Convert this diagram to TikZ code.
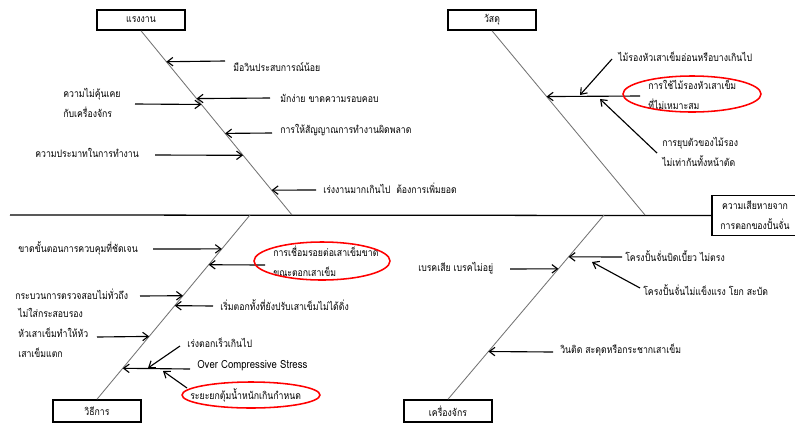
\documentclass[tikz,border=0pt]{standalone}
\usepackage{fontspec}
\usetikzlibrary{arrows.meta}
\newfontfamily\thai[Script=Thai, FakeStretch=0.85]{Loma}
\begin{document}
\begin{tikzpicture}[x=0.025cm, y=-0.025cm, font=\thai\fontsize{7.3}{14}\selectfont]
        \tikzstyle{head}=[draw, line width=1.1pt, minimum width=2.2cm, minimum height=0.5cm, inner sep=0pt]
        \tikzstyle{cause}=[anchor=west, align=left, inner sep=0pt]
        \tikzstyle{bone}=[draw=black!55, line width=0.6pt]
        \tikzstyle{arr}=[-{Straight Barb[length=4pt, width=6pt]}, line width=0.8pt]
        \tikzstyle{ring}=[draw=red, line width=1.1pt]

        \useasboundingbox (0,0) rectangle (795,423);

        \node[head] (man) at (141,20) {แรงงาน};
        \node[head] (mat) at (492,20) {วัสดุ};
        \node[head, minimum height=0.55cm] (meth) at (97,411) {วิธีการ};
        \node[head, minimum height=0.55cm] (mach) at (448,411) {เครื่องจักร};
        \node[draw, line width=0.8pt, minimum width=2.15cm, minimum height=1cm, align=center, inner sep=0pt] (eff) at (755,215.5) {ความเสียหายจาก\\การตอกของปั้นจั่น};

        \coordinate (tail) at (10,215);
        \coordinate (j1) at (292,215);
        \coordinate (j2) at (645,215);
        \coordinate (j3) at (250,215);
        \coordinate (j4) at (604,215);
        \draw[line width=0.9pt] (tail) -- (eff.west);

        \draw[bone] (man.south) -- (j1)
            coordinate[pos=.168] (p1) coordinate[pos=.368] (p2) coordinate[pos=.40] (p3)
            coordinate[pos=.557] (p4) coordinate[pos=.676] (p5) coordinate[pos=.865] (p6);
        \draw[bone] (mat.south) -- (j2) coordinate[pos=.357] (r1);
        \draw[bone] (meth.north) -- (j3)
            coordinate[pos=.816] (s1) coordinate[pos=.730] (s2) coordinate[pos=.562] (s3)
            coordinate[pos=.508] (s4) coordinate[pos=.341] (s5) coordinate[pos=.168] (s6);
        \draw[bone] (mach.north) -- (j4)
            coordinate[pos=.708] (q1) coordinate[pos=.773] (q2) coordinate[pos=.259] (q4);

        % man
        \node[cause] (n1) at (233,67) {มือวินประสบการณ์น้อย};
        \node[cause] (n2) at (280,98) {มักง่าย ขาดความรอบคอบ};
        \node[cause] (n3) at (63,103) {ความไม่คุ้นเคย\\กับเครื่องจักร};
        \node[cause] (n4) at (280,130) {การให้สัญญาณการทำงานผิดพลาด};
        \node[cause] (n5) at (35,153) {ความประมาทในการทำงาน};
        \node[cause] (n6) at (323,188) {เร่งงานมากเกินไป\ \ ต้องการเพิ่มยอด};
        \coordinate (a1) at (225,61);
        \coordinate (a2) at (270,98);
        \coordinate (a3) at (135,104);
        \coordinate (a4) at (272,133);
        \coordinate (a5) at (155,155);
        \coordinate (a6) at (316,190);
        \draw[arr] (a1) -- (p1);
        \draw[arr] (a2) -- (p2);
        \draw[arr] (a3) -- (p3);
        \draw[arr] (a4) -- (p4);
        \draw[arr] (a5) -- (p5);
        \draw[arr] (a6) -- (p6);

        % material
        \node[cause] (m1) at (618,57) {ไม้รองหัวเสาเข็มอ่อนหรือบางเกินไป};
        \node[cause] (m2) at (648,95) {การใช้ไม้รองหัวเสาเข็ม\\ที่ไม่เหมาะสม};
        \node[cause] (m3) at (662,152) {การยุบตัวของไม้รอง\\ไม่เท่ากันทั้งหน้าตัด};
        \coordinate (b1) at (640,96);
        \coordinate (b2) at (612,59);
        \coordinate (b2h) at (580,95);
        \coordinate (b3) at (657,153);
        \coordinate (b3h) at (600,99);
        \draw[arr] (b1) -- (r1);
        \draw[arr] (b2) -- (b2h);
        \draw[arr] (b3) -- (b3h);
        \draw[ring] (692,94) ellipse [x radius=69, y radius=18];

        % method
        \node[cause] (k1) at (18,248) {ขาดขั้นตอนการควบคุมที่ชัดเจน};
        \node[cause] (k2) at (273,261) {การเชื่อมรอยต่อเสาเข็มขาด\\ขณะตอกเสาเข็ม};
        \node[cause] (k3) at (15,294) {กระบวนการตรวจสอบไม่ทั่วถึง};
        \node[cause] (k4) at (220,305) {เริ่มตอกทั้งที่ยังปรับเสาเข็มไม่ได้ดิ่ง};
        \node[cause] (k5) at (18,333) {ไม่ใส่กระสอบรอง\\หัวเสาเข็มทำให้หัว\\เสาเข็มแตก};
        \node[cause, font=\thai\fontsize{8}{14}\selectfont] (k6) at (197,366) {Over Compressive Stress};
        \node[cause] (k7) at (187,343) {เร่งตอกเร็วเกินไป};
        \node[cause] (k8) at (190,395) {ระยะยกตุ้มน้ำหนักเกินกำหนด};
        \coordinate (c1) at (153,249);
        \coordinate (c2) at (265,265);
        \coordinate (c3) at (140,296);
        \coordinate (c4) at (213,306);
        \coordinate (c5) at (97,337);
        \coordinate (c6) at (190,369);
        \coordinate (c7) at (180,346);
        \coordinate (c7h) at (148,368);
        \coordinate (c8) at (187,388);
        \coordinate (c8h) at (163,371);
        \draw[arr] (c1) -- (s1);
        \draw[arr] (c2) -- (s2);
        \draw[arr] (c3) -- (s3);
        \draw[arr] (c4) -- (s4);
        \draw[arr] (c5) -- (s5);
        \draw[arr] (c6) -- (s6);
        \draw[arr] (c7) -- (c7h);
        \draw[arr] (c8) -- (c8h);
        \draw[ring] (322,261) ellipse [x radius=68, y radius=19];
        \draw[ring] (251,395) ellipse [x radius=69, y radius=13];

        % machine
        \node[cause] (w1) at (418,268) {เบรคเสีย เบรคไม่อยู่};
        \node[cause] (w2) at (625,256) {โครงปั้นจั่นบิดเบี้ยว ไม่ตรง};
        \node[cause] (w3) at (643,290) {โครงปั้นจั่นไม่แข็งแรง โยก สะบัด};
        \node[cause] (w4) at (560,350) {วินติด สะดุดหรือกระชากเสาเข็ม};
        \coordinate (d1) at (510,269);
        \coordinate (d2) at (622,257);
        \coordinate (d3) at (640,288);
        \coordinate (d3h) at (592,262);
        \coordinate (d4) at (553,352);
        \draw[arr] (d1) -- (q1);
        \draw[arr] (d2) -- (q2);
        \draw[arr] (d3) -- (d3h);
        \draw[arr] (d4) -- (q4);
    \end{tikzpicture}
\end{document}
